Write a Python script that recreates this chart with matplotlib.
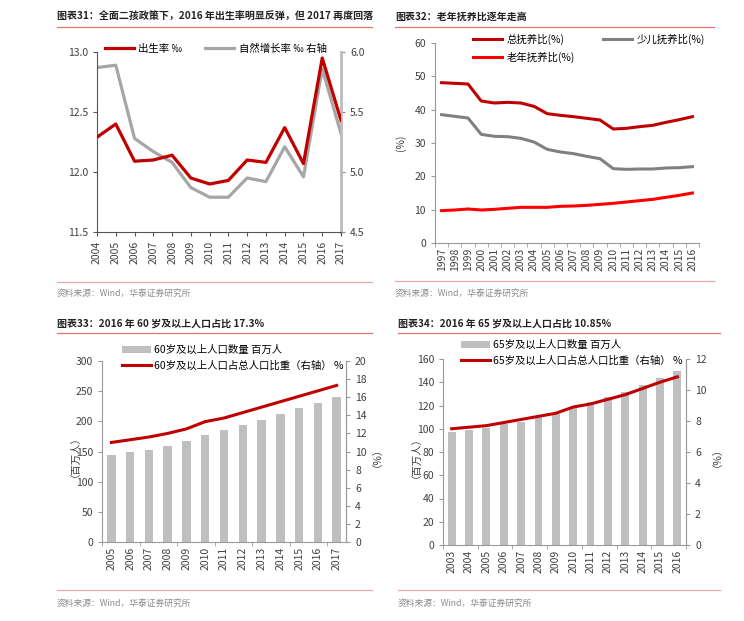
import matplotlib
matplotlib.use("Agg")
import matplotlib.pyplot as plt
import numpy as np
from matplotlib.lines import Line2D

plt.rcParams['font.family'] = ['Noto Sans CJK SC', 'DejaVu Sans']
plt.rcParams['axes.unicode_minus'] = False

# ---- data ----
years31 = [2004, 2005, 2006, 2007, 2008, 2009, 2010, 2011, 2012, 2013, 2014, 2015, 2016, 2017]
birth_rate = [12.29, 12.40, 12.09, 12.10, 12.14, 11.95, 11.90, 11.93, 12.10, 12.08, 12.37, 12.07, 12.95, 12.43]
natural_growth = [5.87, 5.89, 5.28, 5.17, 5.08, 4.87, 4.79, 4.79, 4.95, 4.92, 5.21, 4.96, 5.86, 5.32]

years32 = [str(y) for y in range(1997, 2017)]
total_dep = [48.1, 47.9, 47.7, 42.6, 42.0, 42.2, 42.0, 41.0, 38.8, 38.3, 37.9, 37.4, 36.9, 34.2, 34.4, 34.9, 35.3, 36.2, 37.0, 37.9]
child_dep = [38.5, 38.0, 37.5, 32.6, 32.0, 31.9, 31.4, 30.3, 28.1, 27.3, 26.8, 26.0, 25.3, 22.3, 22.1, 22.2, 22.2, 22.5, 22.6, 22.9]
old_dep = [9.7, 9.9, 10.2, 9.9, 10.1, 10.4, 10.7, 10.7, 10.7, 11.0, 11.1, 11.3, 11.6, 11.9, 12.3, 12.7, 13.1, 13.7, 14.3, 15.0]

years33 = [str(y) for y in range(2005, 2018)]
pop60 = [144, 149, 153, 159, 167, 178, 185, 194, 202, 212, 222, 231, 241]
share60 = [11.0, 11.3, 11.6, 12.0, 12.5, 13.3, 13.7, 14.3, 14.9, 15.5, 16.1, 16.7, 17.3]

years34 = [str(y) for y in range(2003, 2017)]
pop65 = [97, 99, 101, 104, 106, 110, 113, 119, 123, 127, 132, 138, 144, 150]
share65 = [7.5, 7.6, 7.7, 7.9, 8.1, 8.3, 8.5, 8.9, 9.1, 9.4, 9.7, 10.1, 10.5, 10.85]

titles = ["图表31：全面二孩政策下，2016 年出生率明显反弹，但 2017 再度回落",
          "图表32：老年抚养比逐年走高",
          "图表33：2016 年 60 岁及以上人口占比 17.3%",
          "图表34：2016 年 65 岁及以上人口占比 10.85%"]
source = "资料来源：Wind，华泰证券研究所"

W, H = 744, 621
DARK_RED = "#C00000"
BRIGHT_RED = "#FF0000"
GREY = "#A6A6A6"
BAR_GREY = "#BFBFBF"
AXIS_GREY = "#9A9A9A"
TXT = "#404040"

fig = plt.figure(figsize=(W / 100, H / 100), dpi=100)


def ax_at(x0, y0, x1, y1):
    return fig.add_axes([x0 / W, 1 - y1 / H, (x1 - x0) / W, (y1 - y0) / H])


def hline(x0, x1, y, color, lw=1.0):
    fig.add_artist(Line2D([x0 / W, x1 / W], [1 - y / H, 1 - y / H],
                          transform=fig.transFigure, color=color, lw=lw))


def frame(x0, x1, ytitle, yline, ysrc_line, ysrc, title):
    fig.text(x0 / W, 1 - ytitle / H, title, fontsize=7.2, fontweight="bold",
             color="#222222", va="center", ha="left")
    hline(x0, x1, yline, "#E57373", 0.9)
    hline(x0, x1, ysrc_line, "#EBA8A8", 0.9)
    fig.text(x0 / W, 1 - ysrc / H, source, fontsize=6.3, color="#8C8C8C",
             va="center", ha="left")


def style(ax, color=AXIS_GREY):
    for s in ["top", "right"]:
        ax.spines[s].set_visible(False)
    for s in ["left", "bottom"]:
        ax.spines[s].set_color(color)
    ax.tick_params(colors=color, labelcolor=TXT, labelsize=7.5, length=3)
    ax.patch.set_alpha(0)


frame(57, 372, 17, 27, 282, 293, titles[0])
frame(395, 714, 17, 27, 281, 293, titles[1])
frame(57, 372, 324, 333, 590, 603, titles[2])
frame(398, 720, 324, 333, 590, 603, titles[3])

# ---- chart 31 ----
ax1 = ax_at(97, 52, 341, 232)
style(ax1, "#555555")
ax1.plot(years31, birth_rate, color=DARK_RED, lw=2.3, label="出生率 ‰", zorder=3)
ax1.set_xlim(2004, 2017)
ax1.set_ylim(11.5, 13.0)
ax1.set_yticks([11.5, 12.0, 12.5, 13.0])
ax1.set_yticklabels(["11.5", "12.0", "12.5", "13.0"])
ax1.set_xticks(years31)
ax1.set_xticklabels([str(y) for y in years31], rotation=90)
ax1b = ax1.twinx()
ax1b.plot(years31, natural_growth, color=GREY, lw=2.3, label="自然增长率 ‰ 右轴", zorder=2)
ax1b.set_ylim(4.5, 6.0)
ax1b.set_yticks([4.5, 5.0, 5.5, 6.0])
ax1b.set_yticklabels(["4.5", "5.0", "5.5", "6.0"])
for s in ["top", "left", "bottom"]:
    ax1b.spines[s].set_visible(False)
ax1b.spines["right"].set_color("#BBBBBB")
ax1b.spines["right"].set_linewidth(2)
ax1b.tick_params(colors="#888888", labelcolor=TXT, labelsize=7.5, length=3)
ax1.set_zorder(ax1b.get_zorder() + 1)
h1, l1 = ax1.get_legend_handles_labels()
h2, l2 = ax1b.get_legend_handles_labels()
fig.legend(h1 + h2, l1 + l2, ncol=2, frameon=False, fontsize=7.5,
           loc="center left", bbox_to_anchor=(105 / W, 1 - 49 / H),
           borderaxespad=0, borderpad=0, handlelength=2.8, handletextpad=0.4,
           columnspacing=2.2)

# ---- chart 32 ----
ax2 = ax_at(435, 43, 699, 243)
style(ax2)
x2 = np.arange(len(years32))
ax2.plot(x2, total_dep, color=DARK_RED, lw=2.2, label="总抚养比(%)")
ax2.plot(x2, child_dep, color="#808080", lw=2.2, label="少儿抚养比(%)")
ax2.plot(x2, old_dep, color=BRIGHT_RED, lw=2.2, label="老年抚养比(%)")
ax2.set_xlim(-0.5, len(years32) - 0.5)
ax2.set_ylim(0, 60)
ax2.set_yticks(range(0, 61, 10))
ax2.set_xticks(x2)
ax2.set_xticklabels(years32, rotation=90)
ax2.tick_params(axis="x", length=0)
ax2.set_xticks(np.arange(-0.5, len(years32), 1), minor=True)
ax2.tick_params(axis="x", which="minor", length=3, color=AXIS_GREY)
ax2.set_ylabel("(%)", fontsize=7.5, color=TXT, labelpad=6)
hh, ll = ax2.get_legend_handles_labels()
fig.legend([hh[0], hh[2]], [ll[0], ll[2]], frameon=False, fontsize=7.5,
           loc="upper left", bbox_to_anchor=(473 / W, 1 - 34 / H),
           borderaxespad=0, borderpad=0, handlelength=2.8, handletextpad=0.4,
           labelspacing=0.6)
fig.legend([hh[1]], [ll[1]], frameon=False, fontsize=7.5,
           loc="upper left", bbox_to_anchor=(603 / W, 1 - 34 / H),
           borderaxespad=0, borderpad=0, handlelength=2.8, handletextpad=0.4)


# ---- charts 33 / 34 ----
def bar_line(box, years, pops, shares, ymax, ystep, rmax, rstep, lab_bar, lab_line, leg_xy):
    ax = ax_at(*box)
    style(ax)
    ax.spines["right"].set_visible(True)
    ax.spines["right"].set_color(AXIS_GREY)
    x = np.arange(len(years))
    ax.bar(x, pops, width=0.45, color=BAR_GREY, label=lab_bar)
    ax.set_xlim(-0.5, len(years) - 0.5)
    ax.set_ylim(0, ymax)
    ax.set_yticks(np.arange(0, ymax + 1, ystep))
    ax.set_xticks(x)
    ax.set_xticklabels(years, rotation=90)
    ax.tick_params(axis="x", length=0)
    ax.set_xticks(np.arange(-0.5, len(years), 2), minor=True)
    ax.tick_params(axis="x", which="minor", length=3, color=AXIS_GREY)
    ax.set_ylabel("（百万人）", fontsize=7.5, color=TXT, labelpad=1)
    axr = ax.twinx()
    axr.plot(x, shares, color=DARK_RED, lw=2.2, label=lab_line)
    axr.set_ylim(0, rmax)
    axr.set_yticks(np.arange(0, rmax + 0.1, rstep))
    for s in ["top", "left", "bottom"]:
        axr.spines[s].set_visible(False)
    axr.spines["right"].set_color(AXIS_GREY)
    axr.tick_params(colors=AXIS_GREY, labelcolor=TXT, labelsize=7.5, length=3)
    axr.set_ylabel("（%）", fontsize=7.5, color=TXT, labelpad=0)
    hb, lb = ax.get_legend_handles_labels()
    hl, lline = axr.get_legend_handles_labels()
    fig.legend(hb + hl, lb + lline, frameon=False, fontsize=7.5,
               loc="upper left", bbox_to_anchor=(leg_xy[0] / W, 1 - leg_xy[1] / H),
               borderaxespad=0, borderpad=0, handlelength=2.8, handletextpad=0.3,
               labelspacing=0.5)
    return ax, axr


bar_line((102, 361, 346, 542), years33, pop60, share60, 300, 50, 20, 2,
         "60岁及以上人口数量 百万人", "60岁及以上人口占总人口比重（右轴） %", (122, 345))
bar_line((443, 359, 686, 545), years34, pop65, share65, 160, 20, 12, 2,
         "65岁及以上人口数量 百万人", "65岁及以上人口占总人口比重（右轴） %", (461, 340))

fig.savefig("out.png", dpi=100, facecolor="white")
